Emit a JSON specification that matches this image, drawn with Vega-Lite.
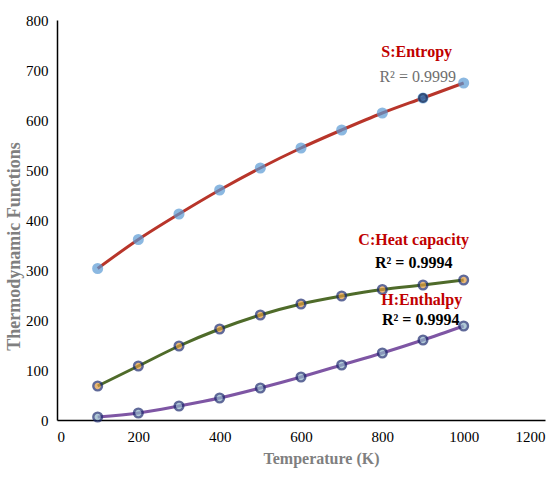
{
  "$schema": "https://vega.github.io/schema/vega-lite/v6.json",
  "width": 488,
  "height": 400,
  "autosize": "none",
  "padding": {"left": 57, "top": 20, "right": 13, "bottom": 60},
  "background": "white",
  "config": {"view": {"stroke": null}, "font": "Liberation Serif"},
  "data": {"values": [
    {"T": 100, "value": 303, "series": "S"},
    {"T": 200, "value": 361, "series": "S"},
    {"T": 300, "value": 412, "series": "S"},
    {"T": 400, "value": 460, "series": "S"},
    {"T": 500, "value": 504, "series": "S"},
    {"T": 600, "value": 544, "series": "S"},
    {"T": 700, "value": 580, "series": "S"},
    {"T": 800, "value": 614, "series": "S"},
    {"T": 900, "value": 644, "series": "S"},
    {"T": 1000, "value": 674, "series": "S"},
    {"T": 100, "value": 68, "series": "C"},
    {"T": 200, "value": 108, "series": "C"},
    {"T": 300, "value": 148, "series": "C"},
    {"T": 400, "value": 182, "series": "C"},
    {"T": 500, "value": 210, "series": "C"},
    {"T": 600, "value": 232, "series": "C"},
    {"T": 700, "value": 248, "series": "C"},
    {"T": 800, "value": 261, "series": "C"},
    {"T": 900, "value": 270, "series": "C"},
    {"T": 1000, "value": 280, "series": "C"},
    {"T": 100, "value": 6, "series": "H"},
    {"T": 200, "value": 14, "series": "H"},
    {"T": 300, "value": 28, "series": "H"},
    {"T": 400, "value": 44, "series": "H"},
    {"T": 500, "value": 64, "series": "H"},
    {"T": 600, "value": 86, "series": "H"},
    {"T": 700, "value": 110, "series": "H"},
    {"T": 800, "value": 134, "series": "H"},
    {"T": 900, "value": 160, "series": "H"},
    {"T": 1000, "value": 188, "series": "H"}
  ]},
  "encoding": {
    "x": {"field": "T", "type": "quantitative",
      "scale": {"domain": [0, 1200], "nice": false, "zero": false},
      "axis": {"values": [0, 200, 400, 600, 800, 1000, 1200], "format": "d", "grid": false, "ticks": false,
        "domainColor": "#000000", "domainWidth": 1.5,
        "labelFont": "Liberation Serif", "labelFontSize": 15, "labelColor": "#000000", "labelPadding": 9,
        "title": "Temperature (K)", "titleFont": "Liberation Serif", "titleFontSize": 16, "titleFontWeight": "bold",
        "titleColor": "#7f7f7f", "titlePadding": 6, "titleX": 264}},
    "y": {"field": "value", "type": "quantitative",
      "scale": {"domain": [0, 800], "nice": false},
      "axis": {"values": [0, 100, 200, 300, 400, 500, 600, 700, 800], "grid": false, "ticks": false,
        "domainColor": "#000000", "domainWidth": 1.5,
        "labelFont": "Liberation Serif", "labelFontSize": 15, "labelColor": "#000000", "labelPadding": 9,
        "title": "Thermodynamic Functions", "titleFont": "Liberation Serif", "titleFontSize": 18, "titleFontWeight": "bold",
        "titleColor": "#808080", "titlePadding": 2, "titleY": 226}}
  },
  "layer": [
    {"mark": {"type": "line", "interpolate": "monotone", "strokeWidth": 3},
     "encoding": {"color": {"field": "series", "type": "nominal",
       "scale": {"domain": ["S", "C", "H"], "range": ["#B8352A", "#4F6B2A", "#7E56A4"]}, "legend": null}}},
    {"mark": {"type": "point", "filled": true, "size": 75, "strokeWidth": 2.4},
     "encoding": {
       "fill": {"field": "series", "type": "nominal",
         "scale": {"domain": ["S", "C", "H"], "range": ["#5B9BD5", "#E09A40", "#8FB3C6"]}, "legend": null},
       "stroke": {"field": "series", "type": "nominal",
         "scale": {"domain": ["S", "C", "H"], "range": ["#5B9BD5", "#1C2A6E", "#1C2A6E"]}, "legend": null}}},
    {"transform": [{"filter": "datum.series == 'S' && datum.T == 900"}],
     "mark": {"type": "point", "filled": true, "size": 60, "strokeWidth": 2.2, "fill": "#2E5E9A", "stroke": "#0F2350"}},
    {"transform": [{"filter": "datum.series == 'S' && datum.T == 1000"}],
     "mark": {"type": "text", "text": "S:Entropy", "dx": -47, "dy": -31, "fontSize": 16, "fontWeight": "bold", "color": "#C00000", "font": "Liberation Serif"}},
    {"transform": [{"filter": "datum.series == 'S' && datum.T == 1000"}],
     "mark": {"type": "text", "text": "R² = 0.9999", "dx": -46, "dy": -6, "fontSize": 16, "color": "#6f6f6f", "font": "Liberation Serif"}},
    {"transform": [{"filter": "datum.series == 'C' && datum.T == 1000"}],
     "mark": {"type": "text", "text": "C:Heat capacity", "dx": -50, "dy": -40, "fontSize": 16, "fontWeight": "bold", "color": "#C00000", "font": "Liberation Serif"}},
    {"transform": [{"filter": "datum.series == 'C' && datum.T == 1000"}],
     "mark": {"type": "text", "text": "R² = 0.9994", "dx": -50, "dy": -17, "fontSize": 16, "fontWeight": "bold", "color": "#000000", "font": "Liberation Serif"}},
    {"transform": [{"filter": "datum.series == 'H' && datum.T == 1000"}],
     "mark": {"type": "text", "text": "H:Enthalpy", "dx": -42, "dy": -26, "fontSize": 16, "fontWeight": "bold", "color": "#C00000", "font": "Liberation Serif"}},
    {"transform": [{"filter": "datum.series == 'H' && datum.T == 1000"}],
     "mark": {"type": "text", "text": "R² = 0.9994", "dx": -43, "dy": -6, "fontSize": 16, "fontWeight": "bold", "color": "#000000", "font": "Liberation Serif"}}
  ]
}
